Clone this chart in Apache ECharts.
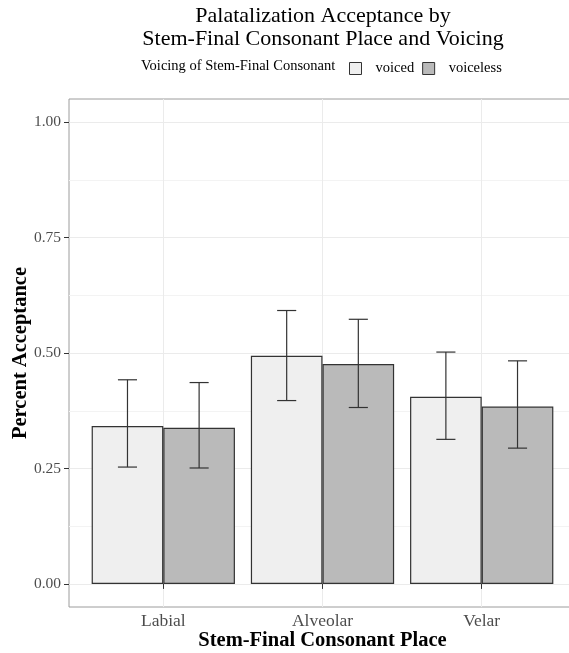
<!DOCTYPE html>
<html>
<head>
<meta charset="utf-8">
<script src="https://cdn.jsdelivr.net/npm/echarts@6/dist/echarts.min.js"></script>
<style>html,body{margin:0;padding:0;background:#fff}#c{width:569px;height:653px}</style>
</head>
<body>
<div id="c"></div>
<script>
// ---- data ----
const categories = ['Labial', 'Alveolar', 'Velar'];
const seriesNames = ['voiced', 'voiceless'];
const voiced = [0.342, 0.494, 0.405];
const voiceless = [0.338, 0.476, 0.384];
const voicedLow = [0.253, 0.397, 0.313];
const voicedHigh = [0.442, 0.592, 0.502];
const voicelessLow = [0.251, 0.382, 0.294];
const voicelessHigh = [0.436, 0.573, 0.483];
const yTickLabels = ['0.00', '0.25', '0.50', '0.75', '1.00'];

const FONT = '"Liberation Serif", "DejaVu Serif", serif';
const chart = echarts.init(document.getElementById('c'), null, {renderer: 'canvas'});

function errRender(sign) {
  return function (params, api) {
    const i = api.value(0);
    const lo = api.coord([i, api.value(1)]);
    const hi = api.coord([i, api.value(2)]);
    const bw = api.size([1, 0])[0];
    const x = lo[0] + sign * bw * 0.225;
    const cap = bw * 0.06;
    const st = {stroke: '#333', lineWidth: 1.2, fill: null};
    return {
      type: 'group',
      children: [
        {type: 'line', shape: {x1: x, y1: lo[1], x2: x, y2: hi[1]}, style: st},
        {type: 'line', shape: {x1: x - cap, y1: hi[1], x2: x + cap, y2: hi[1]}, style: st},
        {type: 'line', shape: {x1: x - cap, y1: lo[1], x2: x + cap, y2: lo[1]}, style: st}
      ]
    };
  };
}

const option = {
  backgroundColor: '#fff',
  animation: false,
  title: [{
    text: 'Palatalization Acceptance by\nStem-Final Consonant Place and Voicing',
    left: 318, top: 0, textAlign: 'center',
    textStyle: {fontFamily: FONT, fontSize: 22, fontWeight: 'normal', color: '#000', lineHeight: 23}
  }, {
    text: 'Voicing of Stem-Final Consonant',
    left: 141, top: 59,
    padding: 0,
    textStyle: {fontFamily: FONT, fontSize: 14.5, fontWeight: 'normal', color: '#000'}
  }],
  legend: {
    data: seriesNames,
    left: 349, top: 61,
    padding: 0,
    itemWidth: 12, itemHeight: 12, itemGap: 8,
    icon: 'rect',
    itemStyle: {borderColor: '#333', borderWidth: 1},
    textStyle: {fontFamily: FONT, fontSize: 14.5, color: '#000', padding: [0, 0, 0, 9]},
    selectedMode: false
  },
  grid: [
    {left: 69, top: 122, width: 508, height: 462, show: false, outerBoundsMode: 'none', containLabel: false},
    {left: 69, top: 99, width: 508, height: 508, show: true, borderColor: '#9c9c9c', borderWidth: 1, backgroundColor: 'transparent', outerBoundsMode: 'none', containLabel: false},
    {left: 83.7, top: 99, width: 477.6, height: 508, show: false, outerBoundsMode: 'none', containLabel: false}
  ],
  xAxis: [
    {gridIndex: 0, type: 'value', show: false, min: 0, max: 1},
    {gridIndex: 1, type: 'value', show: false, min: 0, max: 1},
    {
      gridIndex: 2, type: 'category', data: categories,
      axisLine: {show: false},
      axisTick: {show: true, alignWithLabel: true, length: 5, lineStyle: {color: '#333', width: 1}},
      axisLabel: {fontFamily: FONT, fontSize: 17.5, color: '#4d4d4d', margin: 5},
      splitLine: {show: true, alignWithLabel: true, lineStyle: {color: '#ebebeb', width: 1}},
      name: 'Stem-Final Consonant Place',
      nameLocation: 'middle', nameGap: 23, nameMoveOverlap: false,
      nameTextStyle: {fontFamily: FONT, fontSize: 20.5, fontWeight: 'bold', color: '#000'}
    }
  ],
  yAxis: [
    {
      gridIndex: 0, type: 'value', min: 0, max: 1, interval: 0.25,
      axisLine: {show: false},
      axisTick: {show: true, length: 5, lineStyle: {color: '#333', width: 1}},
      axisLabel: {fontFamily: FONT, fontSize: 15.5, color: '#4d4d4d', margin: 8,
        formatter: function (v) { return yTickLabels[Math.round(v / 0.25)]; }},
      splitLine: {show: true, lineStyle: {color: '#ebebeb', width: 1}},
      minorTick: {show: false, splitNumber: 2},
      minorSplitLine: {show: true, lineStyle: {color: '#f3f3f3', width: 1}},
      name: 'Percent Acceptance',
      nameLocation: 'middle', nameGap: 38, nameMoveOverlap: false,
      nameTextStyle: {fontFamily: FONT, fontSize: 20.5, fontWeight: 'bold', color: '#000'}
    },
    {gridIndex: 1, type: 'value', show: false, min: 0, max: 1},
    {gridIndex: 2, type: 'value', show: false, min: -0.05, max: 1.05}
  ],
  series: [
    {
      name: seriesNames[0], type: 'bar', xAxisIndex: 2, yAxisIndex: 2,
      data: voiced, barWidth: '45%', barGap: '0%',
      itemStyle: {color: '#efefef', borderColor: '#333', borderWidth: 1.2}
    },
    {
      name: seriesNames[1], type: 'bar', xAxisIndex: 2, yAxisIndex: 2,
      data: voiceless, barWidth: '45%', barGap: '0%',
      itemStyle: {color: '#bababa', borderColor: '#333', borderWidth: 1.2}
    },
    {
      type: 'custom', xAxisIndex: 2, yAxisIndex: 2, z: 5,
      renderItem: errRender(-1),
      data: categories.map((c, i) => [i, voicedLow[i], voicedHigh[i]])
    },
    {
      type: 'custom', xAxisIndex: 2, yAxisIndex: 2, z: 5,
      renderItem: errRender(1),
      data: categories.map((c, i) => [i, voicelessLow[i], voicelessHigh[i]])
    }
  ]
};
chart.setOption(option);
</script>
</body>
</html>
